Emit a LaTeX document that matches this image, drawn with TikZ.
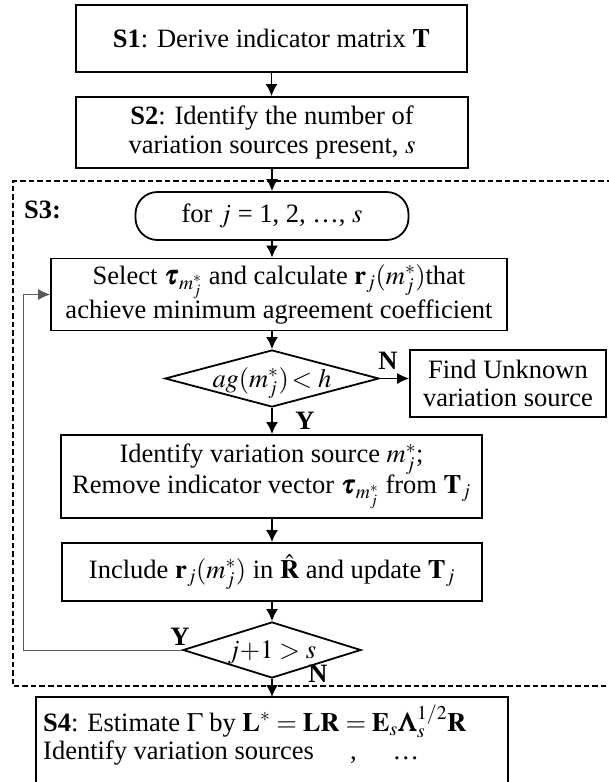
\documentclass[tikz,border=0pt]{standalone}
\usepackage{amsmath}
\usepackage{mathptmx}
\usepackage{bm}
\usepackage[no-math]{fontspec}
\setmainfont{Liberation Serif}
\usetikzlibrary{arrows.meta,shapes.geometric}

% text set inside a diamond without enlarging it
\newcommand{\dtext}[1]{\smash{\makebox[0pt]{\raisebox{-0.33em}{#1}}}}

\begin{document}
\begin{tikzpicture}[x=1pt,y=-1pt,
  font=\fontsize{26.5}{28.5}\selectfont,
  >={Latex[length=12pt,width=12pt]},
  box/.style={draw, line width=1.8pt, rectangle, inner sep=0pt, align=center},
  cond/.style={draw, line width=1.8pt, diamond, inner sep=0pt},
  flow/.style={line width=1.8pt, ->},
  thinflow/.style={line width=1pt, -{Latex[length=12pt,width=11pt]}},
  lbl/.style={font=\fontsize{26.5}{28.5}\selectfont\bfseries, inner sep=0pt}]

\fill[white] (0,0) rectangle (608,782);
\useasboundingbox (0,0) rectangle (608,782);

% main steps
\node[box, minimum width=391pt, minimum height=67pt] (s1) at (271.5,38.5)
  {\textbf{S1}: Derive indicator matrix $\mathbf{T}$};
\node[box, minimum width=392pt, minimum height=71pt] (s2) at (272,132.5)
  {\textbf{S2}: Identify the number of\\ variation sources present, $s$};

% loop region of step S3
\draw[line width=2.4pt, dash pattern=on 5.5pt off 3pt]
  (612,181) -- (13,181) -- (13,686) -- (612,686);
\node[anchor=west, inner sep=0pt] (s3lab) at (24,210) {\textbf{S3:}};

\node[draw, line width=1.8pt, rounded corners=22pt, minimum width=273pt,
  minimum height=48pt, inner sep=0pt] (loop) at (272,216)
  {for $j$ = 1, 2, \ldots, $s$};
\node[box, minimum width=456pt, minimum height=72pt] (sel) at (279,294.5)
  {Select $\bm{\tau}_{m^*_j}$ and calculate $\mathbf{r}_j(m^*_j)$that\\
   achieve minimum agreement coefficient};
\node[cond, minimum width=214pt, minimum height=57pt] (d1) at (272,378.5)
  {\dtext{$ag(m^*_j)\!< h$}};
\node[box, minimum width=196pt, minimum height=67pt] (unk) at (508,383.5)
  {Find Unknown\\ variation source};
\node[box, minimum width=421pt, minimum height=83pt] (idn) at (271.5,476.5)
  {Identify variation source $m^*_j$;\\
   Remove indicator vector $\bm{\tau}_{m^*_j}$ from $\mathbf{T}_j$};
\node[box, minimum width=420pt, minimum height=58pt] (inc) at (272,572)
  {Include $\mathbf{r}_j(m^*_j)$ in $\hat{\mathbf{R}}$ and update $\mathbf{T}_j$};
\node[cond, minimum width=178pt, minimum height=56pt] (d2) at (272,650)
  {\dtext{$j{+}1 > s$}};

% branch labels
\node[lbl] (n1) at (388,361) {N};
\node[lbl] (y1) at (305,421) {Y};
\node[lbl] (y2) at (180,637) {Y};
\node[lbl] (n2) at (318,674) {N};

% final step, frame runs off the lower edge
\draw[line width=1.8pt] (36,800) -- (36,697) -- (508,697) -- (508,800);
\coordinate (s4top) at (272,697);
\node[anchor=north west, align=left, inner sep=0pt] (s4) at (43,705)
  {\textbf{S4}: Estimate $\Gamma$ by $\mathbf{L}^* = \mathbf{LR} = \mathbf{E}_s\bm{\Lambda}_s^{1/2}\mathbf{R}$\\
   Identify variation sources\hspace{36pt},\hspace{36pt}\ldots};

% connectors
\draw[flow] (s1.south) -- (s1.south |- s2.north);
\draw[flow] (s2.south) -- (s2.south |- loop.north);
\draw[flow] (loop.south) -- (loop.south |- sel.north);
\draw[flow] (sel.south -| d1.north) -- (d1.north);
\draw[thinflow] (d1.east) -- (d1.east -| unk.west);
\draw[flow] (d1.south) -- (d1.south |- idn.north);
\draw[flow] (idn.south -| inc.north) -- (inc.north);
\draw[flow] (inc.south) -- (d2.north);
\draw[flow] (d2.south) -- (s4top);
\coordinate (back) at (23,650);
\draw[thinflow, draw=black!65] (d2.west) -- (back) |- (sel.west);
\end{tikzpicture}
\end{document}
